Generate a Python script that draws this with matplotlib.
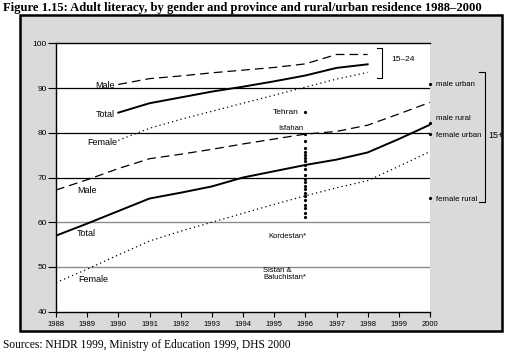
import matplotlib.pyplot as plt
from matplotlib.patches import Rectangle

# ---- data ----
years = [1988, 1989, 1990, 1991, 1992, 1993, 1994, 1995, 1996, 1997, 1998, 1999, 2000]
years_youth = [1990, 1991, 1992, 1993, 1994, 1995, 1996, 1997, 1998]

male_1524 = [90.8, 92.1, 92.7, 93.4, 94.0, 94.6, 95.4, 97.5, 97.5]
total_1524 = [84.5, 86.6, 87.9, 89.2, 90.3, 91.5, 92.8, 94.5, 95.3]
female_1524 = [78.3, 81.0, 83.0, 84.8, 86.6, 88.4, 90.2, 92.0, 93.5]

male_15 = [67.2, 69.5, 72.0, 74.2, 75.2, 76.3, 77.5, 78.6, 79.7, 80.3, 81.7, 84.2, 86.8]
total_15 = [57.0, 59.7, 62.5, 65.3, 66.6, 68.0, 70.0, 71.4, 72.8, 74.0, 75.6, 78.6, 81.8]
female_15 = [46.5, 49.5, 52.7, 55.8, 58.0, 60.0, 62.0, 64.0, 65.9, 67.7, 69.3, 72.5, 75.8]

province_year = 1996
province_vals = [84.6, 79.7, 78.2, 76.6, 75.6, 75.0, 74.4, 73.6, 72.8, 71.9, 70.6, 69.6,
                 69.0, 68.2, 67.4, 66.6, 65.9, 65.0, 63.8, 63.2, 62.0, 61.2]
kordestan = 56.7
sistan = 47.6

res_labels = ['male urban', 'male rural', 'female urban', 'female rural']
res_vals = [90.9, 82.1, 79.7, 65.5]
res_label_y = [90.8, 83.2, 79.3, 65.1]

W, H = 517, 353
fig = plt.figure(figsize=(W / 100, H / 100), dpi=100)
fig.patch.set_facecolor('white')

# grey frame
fig.patches.append(Rectangle((20 / W, 1 - 331 / H), 482 / W, 316 / H, transform=fig.transFigure,
                             facecolor='#dadada', edgecolor='black', linewidth=1.8, zorder=0))

ax = fig.add_axes([56 / W, 1 - 311.7 / H, 374 / W, 268.4 / H])
ax.set_zorder(2)
ax.set_facecolor('white')
ax.set_xlim(1988, 2000)
ax.set_ylim(40, 100)

sans = 'Liberation Sans'

for v in [90, 80, 70]:
    ax.axhline(v, color='black', lw=0.9, zorder=1)
for v in [60, 50]:
    ax.axhline(v, color='#8c8c8c', lw=1.0, zorder=1)

ax.spines['right'].set_visible(False)
for s in ['left', 'bottom', 'top']:
    ax.spines[s].set_linewidth(1.0)

ax.set_xticks(years)
ax.set_yticks([40, 50, 60, 70, 80, 90, 100])
ax.tick_params(axis='y', length=5.5, width=0.8, labelsize=6, pad=1)
ax.tick_params(axis='x', length=3.5, width=0.8, labelsize=5.5, pad=3)
for lab in ax.get_xticklabels() + ax.get_yticklabels():
    lab.set_fontfamily(sans)

# 15-24 lines
ax.plot(years_youth, male_1524, color='black', lw=0.9, ls=(0, (7, 4)))
ax.plot(years_youth, total_1524, color='black', lw=1.4)
ax.plot(years_youth, female_1524, color='black', lw=0.9, ls=(0, (1, 2.5)))

# 15+ lines
ax.plot(years, male_15, color='black', lw=0.9, ls=(0, (7, 4)))
ax.plot(years, total_15, color='black', lw=1.4)
ax.plot(years, female_15, color='black', lw=0.9, ls=(0, (1, 2.5)))

fs = 6.5
ax.text(1989.9, 90.6, 'Male', ha='right', va='center', fontsize=fs, family=sans)
ax.text(1989.9, 84.1, 'Total', ha='right', va='center', fontsize=fs, family=sans)
ax.text(1989.95, 77.8, 'Female', ha='right', va='center', fontsize=fs, family=sans)
ax.text(1988.68, 67.0, 'Male', ha='left', va='center', fontsize=fs, family=sans)
ax.text(1988.68, 57.5, 'Total', ha='left', va='center', fontsize=fs, family=sans)
ax.text(1988.7, 47.2, 'Female', ha='left', va='center', fontsize=fs, family=sans)

# provinces in 1996
ax.plot([province_year] * len(province_vals), province_vals, ls='none', marker='o',
        ms=1.3, color='black')
ax.text(1995.8, province_vals[0] - 0.1, 'Tehran', ha='right', va='center', fontsize=6, family=sans)
ax.text(1995.55, province_vals[1] + 1.3, 'Isfahan', ha='center', va='center', fontsize=5.5,
        family=sans)
ax.text(1996.05, kordestan, 'Kordestan*', ha='right', va='center', fontsize=5.5, family=sans)
ax.text(1994.65, sistan + 1.7, 'Sistan &', ha='left', va='center', fontsize=5.5, family=sans)
ax.text(1994.65, sistan, 'Baluchistan*', ha='left', va='center', fontsize=5.5, family=sans)

# urban / rural at 2000
ax.plot([2000.0] * len(res_vals), res_vals, ls='none', marker='o', ms=1.3, color='black',
        clip_on=False)
for lab, y in zip(res_labels, res_label_y):
    ax.text(2000.2, y, lab, ha='left', va='center', fontsize=5.6, family=sans, clip_on=False)

# brackets
ax.plot([1998.29, 1998.45, 1998.45, 1998.29], [98.9, 98.9, 92.2, 92.2], color='black',
        lw=0.8, clip_on=False)
ax.text(1998.77, 96.3, '15–24', ha='left', va='center', fontsize=6, family=sans)
ax.plot([2001.58, 2001.75, 2001.75, 2001.58], [93.6, 93.6, 64.6, 64.6], color='black',
        lw=0.8, clip_on=False)
ax.text(2001.87, 79.3, '15+', ha='left', va='center', fontsize=6.5, family=sans, clip_on=False)

fig.text(3 / W, 1 - 2 / H, 'Figure 1.15: Adult literacy, by gender and province and rural/urban '
         'residence 1988–2000', ha='left', va='top', fontsize=9.1, fontweight='bold',
         family='Liberation Serif')
fig.text(3 / W, 1 - 345 / H, 'Sources: NHDR 1999, Ministry of Education 1999, DHS 2000',
         ha='left', va='center', fontsize=8.3, family='Liberation Serif')

fig.savefig('out.png', dpi=100)
